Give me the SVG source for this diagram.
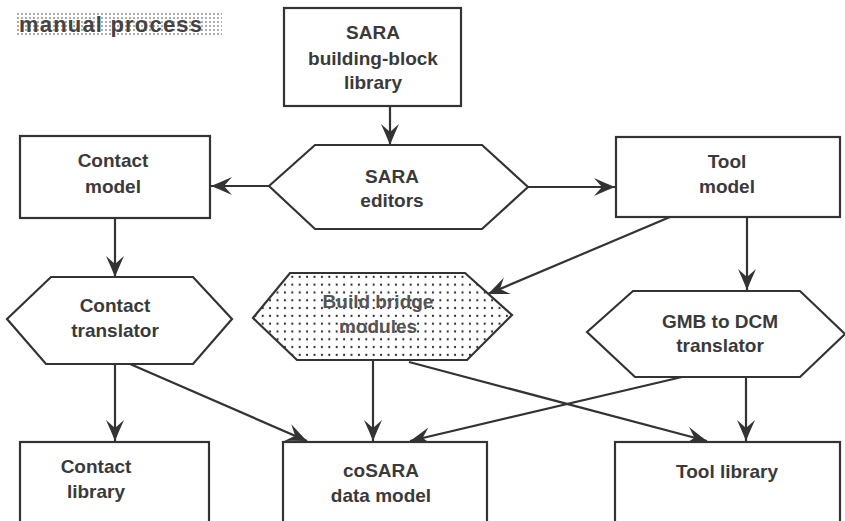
<svg xmlns="http://www.w3.org/2000/svg" width="845" height="521" viewBox="0 0 845 521">
<defs>
<style>
.box{fill:#fff;stroke:#333;stroke-width:2.2}
.t{font-family:"Liberation Sans",Arial,sans-serif;font-weight:bold;font-size:19px;fill:#3a3a3a;text-anchor:middle}
.c{fill:none;stroke:#333;stroke-width:2.2}
</style>
<pattern id="dots" width="7.4" height="7.8" patternUnits="userSpaceOnUse">
<rect width="7.4" height="7.8" fill="#fff"/>
<circle cx="3.7" cy="3.9" r="1.1" fill="#222"/>
</pattern>
<pattern id="fdots" width="4" height="4" patternUnits="userSpaceOnUse">
<rect width="4" height="4" fill="#fff"/>
<circle cx="2" cy="2" r="0.8" fill="#444"/>
</pattern>
<marker id="ah" markerUnits="userSpaceOnUse" markerWidth="22" markerHeight="18" refX="21" refY="9" orient="auto">
<path d="M0,0 Q11,5 21,9 Q11,13 0,18 L8,9 Z" fill="#333"/>
</marker>
</defs>
<rect width="845" height="521" fill="#fff"/>

<g id="legend">
<rect x="17" y="13" width="205" height="23" fill="url(#fdots)"/>
<text x="19" y="32" font-family="Liberation Sans,Arial,sans-serif" font-weight="bold" font-size="22" fill="#444" textLength="183" lengthAdjust="spacing">manual process</text>
</g>

<g id="connectors">
<line class="c" x1="390" y1="106" x2="390" y2="145" marker-end="url(#ah)"/>
<line class="c" x1="269" y1="186" x2="211" y2="186" marker-end="url(#ah)"/>
<line class="c" x1="528" y1="187" x2="615" y2="187" marker-end="url(#ah)"/>
<line class="c" x1="115" y1="218" x2="115" y2="277" marker-end="url(#ah)"/>
<line class="c" x1="747" y1="217" x2="747" y2="290" marker-end="url(#ah)"/>
<line class="c" x1="670" y1="217" x2="488" y2="294" marker-end="url(#ah)"/>
<line class="c" x1="115" y1="364" x2="115" y2="441" marker-end="url(#ah)"/>
<line class="c" x1="130" y1="364" x2="307" y2="441" marker-end="url(#ah)"/>
<line class="c" x1="373" y1="360" x2="373" y2="441" marker-end="url(#ah)"/>
<line class="c" x1="409" y1="362" x2="707" y2="441" marker-end="url(#ah)"/>
<line class="c" x1="682" y1="377" x2="410" y2="441" marker-end="url(#ah)"/>
<line class="c" x1="746" y1="377" x2="746" y2="441" marker-end="url(#ah)"/>
</g>

<g id="sara-lib">
<rect class="box" x="284" y="8" width="177" height="98"/>
<text class="t" x="373" y="39">SARA</text>
<text class="t" x="373" y="65">building-block</text>
<text class="t" x="373" y="89">library</text>
</g>

<g id="sara-editors">
<polygon class="box" points="269,186 315,145 482,145 528,187 482,229 315,229"/>
<text class="t" x="392" y="183">SARA</text>
<text class="t" x="392" y="207">editors</text>
</g>

<g id="contact-model">
<rect class="box" x="20" y="136" width="190" height="82"/>
<text class="t" x="113" y="167">Contact</text>
<text class="t" x="113" y="193">model</text>
</g>

<g id="tool-model">
<rect class="box" x="616" y="137" width="224" height="80"/>
<text class="t" x="727" y="168">Tool</text>
<text class="t" x="727" y="193">model</text>
</g>

<g id="contact-translator">
<polygon class="box" points="7,319 51,277 193,277 232,319 193,364 46,364"/>
<text class="t" x="115" y="312">Contact</text>
<text class="t" x="115" y="337">translator</text>
</g>

<g id="build-bridge">
<polygon points="253,318 290,273 465,273 512,315 467,360 297,360" fill="url(#dots)" stroke="#333" stroke-width="2.2"/>
<text class="t" x="378" y="308" style="fill:#555">Build bridge</text>
<text class="t" x="378" y="333" style="fill:#555">modules</text>
</g>

<g id="gmb-dcm">
<polygon class="box" points="587,332 633,291 800,291 845,334 800,377 635,377"/>
<text class="t" x="720" y="328">GMB to DCM</text>
<text class="t" x="720" y="352">translator</text>
</g>

<g id="contact-library">
<rect class="box" x="20" y="442" width="189" height="90"/>
<text class="t" x="96" y="473">Contact</text>
<text class="t" x="96" y="498">library</text>
</g>

<g id="cosara">
<rect class="box" x="283" y="442" width="204" height="90"/>
<text class="t" x="381" y="477">coSARA</text>
<text class="t" x="381" y="502">data model</text>
</g>

<g id="tool-library">
<rect class="box" x="615" y="442" width="225" height="90"/>
<text class="t" x="727" y="478">Tool library</text>
</g>
</svg>
